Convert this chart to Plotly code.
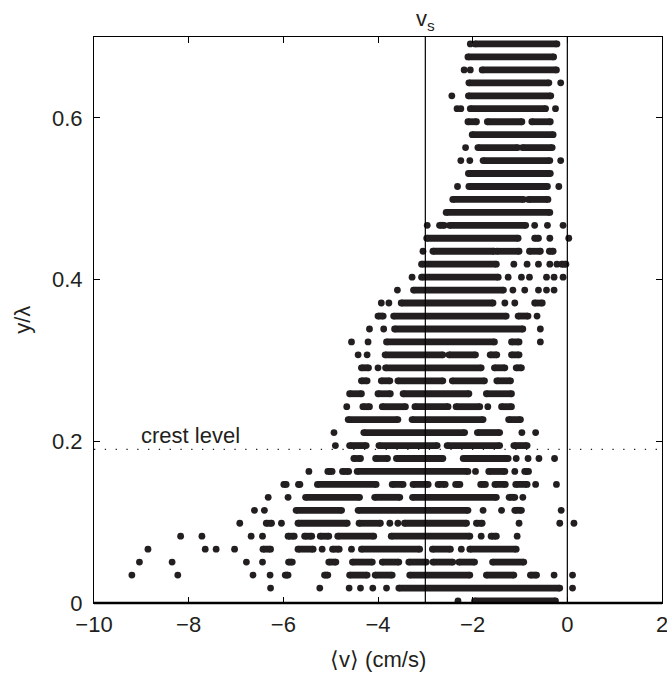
import plotly.graph_objects as go

# ---- data (y/lambda rows, <v> in cm/s) ----
# each row: plain number = single dot, (start, end) = run of overlapping dots
row_y = [0.0025, 0.0185, 0.0345, 0.0506, 0.0666, 0.0826, 0.0986, 0.1146, 0.1307, 0.1467,
         0.1627, 0.1787, 0.1947, 0.2108, 0.2268, 0.2428, 0.2588, 0.2748, 0.2909, 0.3069,
         0.3229, 0.3389, 0.3549, 0.3710, 0.3870, 0.4030, 0.4190, 0.4350, 0.4511, 0.4671,
         0.4831, 0.4991, 0.5151, 0.5312, 0.5472, 0.5632, 0.5792, 0.5952, 0.6113, 0.6273,
         0.6433, 0.6593, 0.6753, 0.6914]

row_00 = [-2.31, (-1.96, -0.25)]
row_01 = [-6.27, -5.23, -4.61, -4.37, -4.11, -3.82, (-3.56, -0.16), 0.11]
row_02 = [-9.20, -8.23, -6.64, -6.28, (-5.96, -5.90), (-5.13, -5.06), (-4.60, -4.23), (-4.06, -3.70),
          (-3.33, -2.06), (-1.71, -1.13), (-0.78, -0.65), -0.28, 0.11]
row_03 = [-9.04, -8.35, -6.78, -6.44, (-5.89, -5.81), (-5.04, -4.89), (-4.54, -4.12), (-3.91, -3.56),
          (-3.35, -2.98), (-2.84, -2.42), (-2.29, -1.96), (-1.58, -0.92)]
row_04 = [-8.86, -7.65, -7.42, -7.03, (-6.43, -6.27), (-5.69, -5.37), -5.18, (-4.96, -4.82), -4.56,
          (-4.35, -3.12), (-2.85, -2.47), -2.24, (-2.06, -1.08)]
row_05 = [-8.17, -7.72, -6.68, -6.44, (-5.90, -5.77), (-5.55, -5.40), (-5.22, -5.04), (-4.85, -4.09),
          (-3.72, -2.06), -1.82, (-1.61, -1.50), -1.06]
row_06 = [-6.92, (-6.36, -6.25), -6.04, (-5.69, -4.65), (-4.40, -3.95), -3.75, -3.58, (-3.44, -2.13),
          (-1.92, -1.80), -1.02, -0.16, 0.14]
row_07 = [-6.61, -6.40, (-5.73, -4.77), (-4.42, -2.10), -1.78, -1.39, (-1.11, -0.97), -0.13]
row_08 = [-6.32, -5.90, (-5.53, -4.39), (-4.07, -3.54), (-3.27, -1.50), (-1.23, -1.11), -0.94]
row_09 = [(-5.99, -5.94), (-5.68, -5.65), (-5.28, -4.04), (-3.70, -3.47), (-3.26, -2.94), (-2.73, -2.58),
          (-2.36, -2.27), (-1.83, -1.73), (-1.53, -1.31), (-1.09, -0.85), -0.67, -0.23]
row_10 = [-5.46, (-5.06, -4.97), (-4.75, -4.62), (-4.44, -2.10), -1.94, (-1.66, -1.32), -1.11, (-0.90, -0.82)]
row_11 = [(-4.51, -4.37), (-4.05, -3.80), (-3.61, -2.63), (-2.20, -1.25), -1.08, -0.83, -0.60, -0.27]
row_12 = [-4.90, (-4.60, -4.25), (-3.98, -2.75), (-2.54, -1.43), (-1.13, -0.85)]
row_13 = [-4.93, (-4.30, -2.17), (-1.90, -1.43), -0.96, -0.67]
row_14 = [(-4.63, -3.58), (-3.28, -1.78), (-1.24, -0.99)]
row_15 = [-4.66, (-4.32, -4.18), (-3.91, -3.42), (-3.22, -2.52), (-2.35, -1.85), -1.68, (-1.39, -1.18)]
row_16 = [(-4.60, -4.35), (-4.00, -3.74), (-3.47, -2.08), (-1.71, -1.18)]
row_17 = [(-4.35, -4.23), (-3.93, -3.75), (-3.58, -2.63), (-2.43, -1.75), (-1.49, -1.20)]
row_18 = [(-4.35, -4.20), -4.00, (-3.84, -1.82), (-1.54, -1.32), (-1.08, -0.97)]
row_19 = [-4.42, -4.23, (-3.85, -2.63), (-2.50, -1.94), (-1.63, -1.49), (-1.18, -1.02)]
row_20 = [-4.56, -4.21, (-3.82, -1.54), (-1.18, -1.02), -0.57]
row_21 = [-4.18, -3.88, (-3.65, -0.94), -0.57]
row_22 = [(-4.00, -3.89), (-3.67, -1.29), (-1.04, -0.83), -0.64]
row_23 = [-3.93, -3.77, (-3.51, -1.57), -1.32, -1.11, (-0.69, -0.53)]
row_24 = [-3.59, (-3.25, -1.35), -1.15, -0.90, -0.61, -0.44, -0.28]
row_25 = [-3.28, (-3.08, -1.46), -1.25, -0.97, -0.80, -0.44, -0.28, -0.09]
row_26 = [(-3.08, -1.50), -1.13, -0.85, -0.61, -0.37, -0.22, (-0.12, -0.03)]
row_27 = [-3.05, (-2.84, -1.55), (-1.49, -1.02), (-0.80, -0.57), (-0.38, -0.30)]
row_28 = [(-2.97, -1.04), (-0.69, -0.61), -0.37, 0.03]
row_29 = [-2.96, (-2.70, -2.60), (-2.49, -0.88), -0.69, -0.42, -0.09]
row_30 = [(-2.56, -0.37)]
row_31 = [(-2.42, -0.93), (-0.82, -0.41)]
row_32 = [-2.32, (-2.08, -0.42), -0.18]
row_33 = [(-2.09, -0.36)]
row_34 = [-2.25, -2.06, (-1.78, -0.37), -0.14]
row_35 = [-2.15, (-1.89, -1.05), (-0.95, -0.32)]
row_36 = [(-2.01, -0.30)]
row_37 = [(-2.10, -1.92), (-1.69, -0.96), (-0.75, -0.36)]
row_38 = [-2.33, -2.25, (-2.05, -0.46), -0.25]
row_39 = [-2.44, (-2.09, -0.35)]
row_40 = [(-2.08, -0.39), -0.14]
row_41 = [-2.18, -2.05, (-1.80, -0.23)]
row_42 = [(-2.10, -0.29)]
row_43 = [-2.05, (-1.95, -0.22)]

rows = [row_00, row_01, row_02, row_03, row_04, row_05, row_06, row_07, row_08, row_09,
        row_10, row_11, row_12, row_13, row_14, row_15, row_16, row_17, row_18, row_19,
        row_20, row_21, row_22, row_23, row_24, row_25, row_26, row_27, row_28, row_29,
        row_30, row_31, row_32, row_33, row_34, row_35, row_36, row_37, row_38, row_39,
        row_40, row_41, row_42, row_43]

v_s = -3.0
v_zero = 0.0
crest_y = 0.19
x_ticks = [-10, -8, -6, -4, -2, 0, 2]
y_ticks = [0, 0.2, 0.4, 0.6]

# ---- build traces ----
lx, ly, mx, my = [], [], [], []
for yv, row in zip(row_y, rows):
    for item in row:
        if isinstance(item, tuple):
            a, b = item
            lx += [a, b, None]
            ly += [yv, yv, None]
            mx += [a, b]
            my += [yv, yv]
        else:
            mx.append(item)
            my.append(yv)

ink = "#231f20"
dot = 6.8
FONT = "Liberation Sans, Arial, Helvetica, sans-serif"
FS = 22

fig = go.Figure()
fig.add_trace(go.Scatter(x=lx, y=ly, mode="lines", line=dict(color=ink, width=dot),
                         hoverinfo="skip", showlegend=False))
fig.add_trace(go.Scatter(x=mx, y=my, mode="markers",
                         marker=dict(color=ink, size=dot, line=dict(width=0)),
                         showlegend=False))

# reference lines
fig.add_shape(type="line", xref="x", yref="paper", x0=v_s, x1=v_s, y0=0, y1=1,
              line=dict(color="black", width=1.2))
fig.add_shape(type="line", xref="x", yref="paper", x0=v_zero, x1=v_zero, y0=0, y1=1,
              line=dict(color="black", width=1.2))
fig.add_shape(type="line", xref="paper", yref="y", x0=0, x1=1, y0=crest_y, y1=crest_y,
              line=dict(color=ink, width=1.3, dash="1.3px,9.5px"))
# heavier bottom axis line
fig.add_shape(type="line", xref="paper", yref="paper", x0=0, x1=1, y0=0, y1=0,
              line=dict(color="black", width=2.4))

fig.add_annotation(text="crest level", x=-9.05, y=0.207, xref="x", yref="y",
                   xanchor="left", yanchor="middle", showarrow=False,
                   font=dict(family=FONT, size=FS, color=ink))
fig.add_annotation(text="v<sub>s</sub>", x=v_s, y=1.0, xref="x", yref="paper",
                   xanchor="center", yanchor="bottom", yshift=1, showarrow=False,
                   font=dict(family=FONT, size=FS, color=ink))
fig.add_annotation(text="\u27e8v\u27e9 (cm/s)", x=0.5, y=-0.099, xref="paper", yref="paper",
                   xanchor="center", yanchor="middle", showarrow=False,
                   font=dict(family=FONT, size=FS, color=ink))
fig.add_annotation(text="y/\u03bb", x=-0.127, y=0.5, xref="paper", yref="paper",
                   xanchor="center", yanchor="middle", textangle=-90, showarrow=False,
                   font=dict(family=FONT, size=FS, color=ink))

axis_common = dict(showgrid=False, zeroline=False, showline=True, linecolor="black",
                   linewidth=1, mirror="ticks", ticks="inside", ticklen=6, tickwidth=1,
                   tickcolor="black", ticklabeloverflow="allow", automargin=False,
                   tickfont=dict(family=FONT, size=FS, color=ink))
fig.update_xaxes(range=[-10, 2], tickvals=x_ticks, ticklabelstandoff=2, **axis_common)
fig.update_yaxes(range=[0, 0.7], tickvals=y_ticks, ticklabelstandoff=6, **axis_common)

fig.update_layout(width=667, height=673, plot_bgcolor="white", paper_bgcolor="white",
                  margin=dict(l=94, r=5, t=37, b=70, autoexpand=False), showlegend=False,
                  font=dict(family=FONT, size=FS, color=ink))

fig.write_html("out.html", config={"displayModeBar": False},
               post_script="document.body.style.margin='0';document.body.style.overflow='hidden';")
